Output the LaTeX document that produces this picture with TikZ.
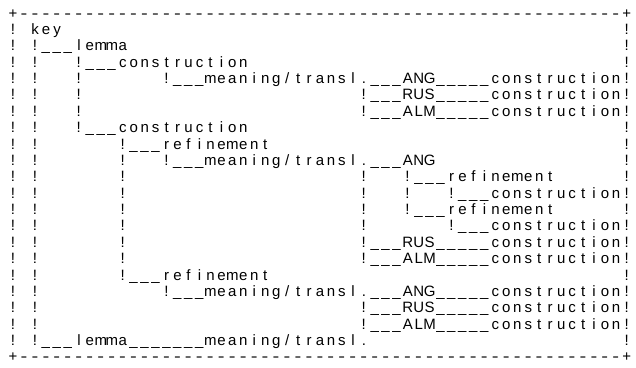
\documentclass[tikz,border=0pt]{standalone}
\usepackage{graphicx}
\usepackage{fontspec}
\newfontfamily\treefont{Liberation Sans}
\newlength\cellw
\setlength\cellw{10.96pt}
% one character per fixed cell, like the printout
\def\spreadi#1{\ifx#1\relax\else\makebox[\cellw][c]{#1}\expandafter\spreadi\fi}
\newcommand\spread[1]{\spreadi#1\relax}

\begin{document}
\begin{tikzpicture}[x=10.96pt, y=-16.38pt,
  cell/.style={anchor=base, inner sep=0pt, font=\treefont\fontsize{15}{18}\selectfont},
  word/.style={cell, anchor=base west}]
\fill[white] (0,0) rectangle (636pt,-367pt);
\useasboundingbox (0,0) rectangle (636pt,-367pt);
\begin{scope}[shift={(13pt,-18pt)}]
% frame
\foreach \r in {0,21} {
  \node[cell] (plusL\r) at (0,\r) {+};
  \node[cell] (plusR\r) at (56,\r) {+};
  \foreach \c in {1,...,55} \node[cell] (dash\c-\r) at (\c,\r) {\scalebox{1.35}[1]{-}};
}
\foreach \r in {1,...,20} {
  \node[cell] (sideL\r) at (0,\r) {!};
  \node[cell] (sideR\r) at (56,\r) {!};
}
% tree bars
\foreach \c/\a/\b in {2/2/20, 6/3/7, 14/4/4, 10/8/16, 14/9/9, 14/17/17,
    32/5/6, 32/10/15, 32/18/19, 36/10/12, 40/11/11, 40/13/13}
  \foreach \r in {\a,...,\b} \node[cell] (bar\c-\r) at (\c,\r) {!};
% underscore runs
\foreach \a/\b/\r in {3/5/2, 7/9/3, 15/17/4, 33/35/4, 39/43/4, 33/35/5, 39/43/5,
    33/35/6, 39/43/6, 7/9/7, 11/13/8, 15/17/9, 33/35/9, 37/39/10, 41/43/11,
    37/39/12, 41/43/13, 33/35/14, 39/43/14, 33/35/15, 39/43/15, 11/13/16,
    15/17/17, 33/35/17, 39/43/17, 33/35/18, 39/43/18, 33/35/19, 39/43/19,
    3/5/20, 11/17/20}
  \foreach \c in {\a,...,\b} \node[cell] (us\c-\r) at (\c,\r) {\_};
% words
\node[word] (key) at (1.5,1) {\spread{key}};
\node[word] (lemA) at (5.5,2) {\spread{lemma}};
\node[word] (conA) at (9.5,3) {\spread{construction}};
\node[word] (meanA) at (17.5,4) {\spread{meaning/transl.}};
\node[word] (angA) at (35.5,4) {\spread{ANG}};
\node[word] (conA1) at (43.5,4) {\spread{construction}};
\node[word] (rusA) at (35.5,5) {\spread{RUS}};
\node[word] (conA2) at (43.5,5) {\spread{construction}};
\node[word] (almA) at (35.5,6) {\spread{ALM}};
\node[word] (conA3) at (43.5,6) {\spread{construction}};
\node[word] (conB) at (9.5,7) {\spread{construction}};
\node[word] (refA) at (13.5,8) {\spread{refinement}};
\node[word] (meanB) at (17.5,9) {\spread{meaning/transl.}};
\node[word] (angB) at (35.5,9) {\spread{ANG}};
\node[word] (refB) at (39.5,10) {\spread{refinement}};
\node[word] (conB1) at (43.5,11) {\spread{construction}};
\node[word] (refC) at (39.5,12) {\spread{refinement}};
\node[word] (conB2) at (43.5,13) {\spread{construction}};
\node[word] (rusB) at (35.5,14) {\spread{RUS}};
\node[word] (conB3) at (43.5,14) {\spread{construction}};
\node[word] (almB) at (35.5,15) {\spread{ALM}};
\node[word] (conB4) at (43.5,15) {\spread{construction}};
\node[word] (refD) at (13.5,16) {\spread{refinement}};
\node[word] (meanC) at (17.5,17) {\spread{meaning/transl.}};
\node[word] (angC) at (35.5,17) {\spread{ANG}};
\node[word] (conC1) at (43.5,17) {\spread{construction}};
\node[word] (rusC) at (35.5,18) {\spread{RUS}};
\node[word] (conC2) at (43.5,18) {\spread{construction}};
\node[word] (almC) at (35.5,19) {\spread{ALM}};
\node[word] (conC3) at (43.5,19) {\spread{construction}};
\node[word] (lemB) at (5.5,20) {\spread{lemma}};
\node[word] (meanD) at (17.5,20) {\spread{meaning/transl.}};
\end{scope}
\end{tikzpicture}
\end{document}
